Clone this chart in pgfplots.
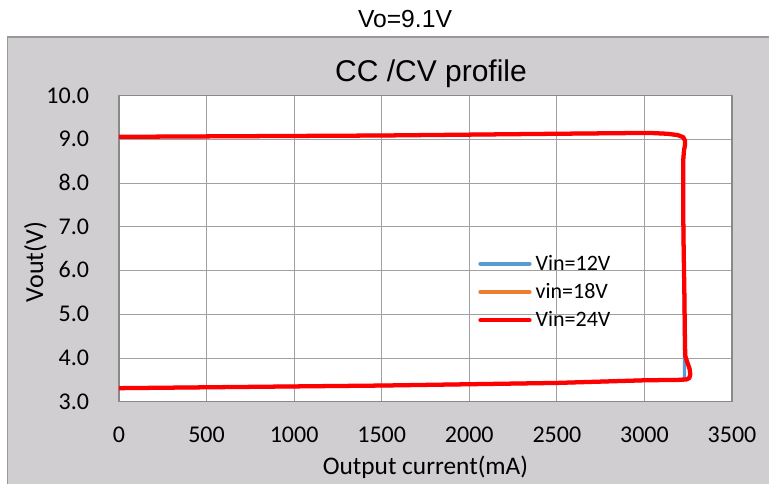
\documentclass[border=0pt]{standalone}
\usepackage{pgfplots}
\pgfplotsset{compat=1.18}
\usepackage{fontspec}
\setmainfont{Carlito}
\newfontfamily\arial{Liberation Sans}
\definecolor{boxgray}{RGB}{208,206,208}
\definecolor{framegray}{RGB}{137,137,137}
\definecolor{gridgray}{RGB}{160,160,160}
\definecolor{vblue}{RGB}{91,155,213}
\definecolor{vorange}{RGB}{237,125,49}
\definecolor{vred}{RGB}{255,0,0}
\begin{document}
\begin{tikzpicture}
\useasboundingbox (0,0) rectangle (576.75pt,363pt);
\fill[boxgray] (5.6pt,-2pt) rectangle (580pt,335.25pt);
\draw[gray!80, line width=0.8pt] (5.6pt,-2pt) -- (5.6pt,335.25pt) -- (580pt,335.25pt);
\node[anchor=base, font=\arial\fontsize{18.5}{21}\selectfont] at (303.75pt,342pt) {Vo=9.1V};
\node[anchor=base, font=\arial\fontsize{22.5}{26}\selectfont] at (323.25pt,301.5pt) {CC /CV profile};
\node[anchor=base, font=\fontsize{19}{22}\selectfont] at (319.1pt,6.75pt) {Output current(mA)};
\node[anchor=base, rotate=90, font=\fontsize{19.5}{22}\selectfont] at (32.25pt,166.5pt) {Vout(V)};
\begin{axis}[
  at={(89.25pt,61.7pt)}, anchor=south west,
  scale only axis, width=459.75pt, height=229.5pt,
  xmin=0, xmax=3500, ymin=3, ymax=10,
  xtick={0,500,...,3500}, ytick={3,4,...,10},
  major tick length=0pt,
  axis background/.style={fill=white},
  axis line style={framegray, line width=1.1pt},
  grid=major,
  major grid style={gridgray, line width=0.75pt},
  /pgf/number format/assume math mode=true,
  /pgf/number format/1000 sep={},
  yticklabel style={/pgf/number format/fixed, /pgf/number format/fixed zerofill, /pgf/number format/precision=1},
  ticklabel style={font=\fontsize{18}{21}\selectfont, inner sep=0pt},
  xticklabel style={anchor=base, yshift=-30.5pt},
  yticklabel style={anchor=base east, xshift=-22.3pt, yshift=-5.5pt},
  legend cell align=left,
  legend image code/.code={\draw[#1, line width=3pt, line cap=round] (0pt,0pt) -- (37pt,0pt);},
  legend style={at={(axis cs:2050,5.51)}, anchor=west, draw=none, fill=none,
    inner sep=0pt, row sep=8.4pt, column sep=3pt,
    font=\fontsize{16.5}{19}\selectfont, nodes={inner sep=0pt}},
  line join=round, line cap=round,
]
\addplot[vblue, line width=2.4pt] coordinates {
(0,9.06) (500,9.07) (1000,9.08) (1500,9.09) (2000,9.11) (2500,9.13) (2900,9.145) (3050,9.145) (3130,9.13) (3190,9.10) (3222,9.05) (3232,8.97) (3232,8.88) (3226,8.75) (3221,8.5) (3221,7.5) (3224,6.5) (3227,5.5) (3229,4.5) (3229,4.0) (3229,3.6) (3226,3.52) (3200,3.50) (3000,3.49) (2500,3.43) (2000,3.40) (1500,3.37) (1000,3.35) (500,3.33) (0,3.31)
};
\addlegendentry{Vin=12V}
\addplot[vorange, line width=2.4pt] coordinates {
(0,9.06) (500,9.07) (1000,9.08) (1500,9.09) (2000,9.11) (2500,9.13) (2900,9.145) (3050,9.145) (3130,9.13) (3190,9.10) (3222,9.05) (3232,8.97) (3232,8.88) (3226,8.75) (3221,8.5) (3221,7.5) (3224,6.5) (3228,5.5) (3231,4.5) (3233,4.05) (3245,3.9) (3258,3.75) (3262,3.63) (3256,3.54) (3240,3.51) (3200,3.50) (3000,3.49) (2500,3.43) (2000,3.40) (1500,3.37) (1000,3.35) (500,3.33) (0,3.31)
};
\addlegendentry{vin=18V}
\addplot[vred, line width=3.2pt] coordinates {
(0,9.06) (500,9.07) (1000,9.08) (1500,9.09) (2000,9.11) (2500,9.13) (2900,9.145) (3050,9.145) (3130,9.13) (3190,9.10) (3222,9.05) (3232,8.97) (3232,8.88) (3226,8.75) (3221,8.5) (3221,7.5) (3224,6.5) (3228,5.5) (3231,4.5) (3233,4.05) (3245,3.9) (3258,3.75) (3262,3.63) (3256,3.54) (3240,3.51) (3200,3.50) (3000,3.49) (2500,3.43) (2000,3.40) (1500,3.37) (1000,3.35) (500,3.33) (0,3.31)
};
\addlegendentry{Vin=24V}
\end{axis}
\end{tikzpicture}
\end{document}
